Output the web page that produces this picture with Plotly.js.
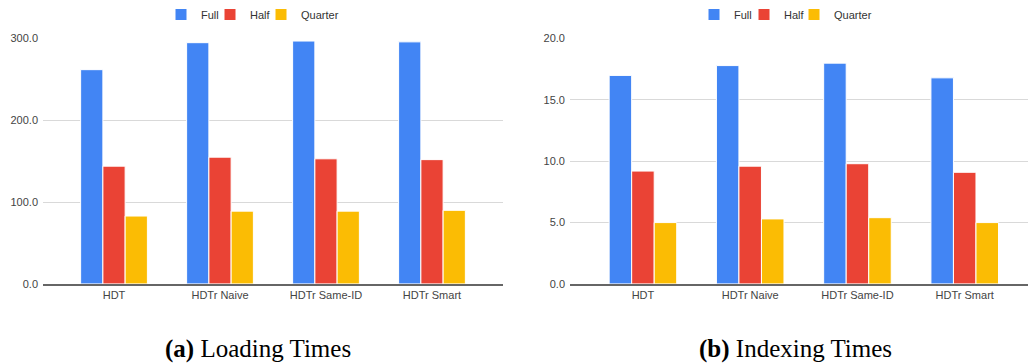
<!DOCTYPE html>
<html>
<head>
<meta charset="utf-8">
<script src="https://cdn.plot.ly/plotly-3.0.1.min.js"></script>
<style>html,body{margin:0;padding:0;background:#fff;}#chart{width:1029px;height:364px;}</style>
</head>
<body>
<div id="chart"></div>
<script>
const categories = ["HDT", "HDTr Naive", "HDTr Same-ID", "HDTr Smart"];
const seriesNames = ["Full", "Half", "Quarter"];
const seriesColors = ["#4285F4", "#EA4335", "#FBBC04"];
const loadingFull = [262, 295, 297, 296];
const loadingHalf = [144, 155, 153, 152];
const loadingQuarter = [83, 89, 89, 90];
const indexingFull = [17.0, 17.8, 18.0, 16.8];
const indexingHalf = [9.2, 9.6, 9.8, 9.1];
const indexingQuarter = [5.0, 5.3, 5.4, 5.0];
const yTicksLoading = [0, 100, 200, 300];
const yTicksIndexing = [0, 5, 10, 15, 20];
const captions = ["<b>(a)</b> Loading Times", "<b>(b)</b> Indexing Times"];

const loading = [loadingFull, loadingHalf, loadingQuarter];
const indexing = [indexingFull, indexingHalf, indexingQuarter];
// one small legend per entry so the entries can sit as close together as in the reference
const legendLeftPx = [161, 210, 261, 694, 744, 794];
const legendIds = ["legend", "legend2", "legend3", "legend4", "legend5", "legend6"];

const traces = [];
seriesNames.forEach((n, i) => {
  traces.push({type: "bar", name: n, x: categories, y: loading[i], xaxis: "x", yaxis: "y",
    marker: {color: seriesColors[i], line: {color: "#ffffff", width: 1}}, legend: legendIds[i], hoverinfo: "y"});
});
seriesNames.forEach((n, i) => {
  traces.push({type: "bar", name: n, x: categories, y: indexing[i], xaxis: "x2", yaxis: "y2",
    marker: {color: seriesColors[i], line: {color: "#ffffff", width: 1}}, legend: legendIds[3 + i], hoverinfo: "y"});
});

const tickFont = {family: "Liberation Sans, Arial, sans-serif", size: 11, color: "#444"};
const yDomain = [(364 - 283.7) / 364, (364 - 37.7) / 364];
const common = {
  showgrid: true, gridcolor: "#d9d9d9", gridwidth: 1, zeroline: false,
  tickfont: tickFont, tickformat: ".1f", ticks: "", fixedrange: true, ticklabelstandoff: 4
};
const legendBase = {orientation: "h", xanchor: "left", yanchor: "middle", y: (364 - 14) / 364,
  font: {family: "Liberation Sans, Arial, sans-serif", size: 11, color: "#333"}, bgcolor: "rgba(0,0,0,0)",
  itemclick: false, itemdoubleclick: false};

const layout = {
  width: 1029, height: 364,
  margin: {l: 0, r: 0, t: 0, b: 0},
  paper_bgcolor: "#fff", plot_bgcolor: "#fff",
  barmode: "group", bargap: 0.37, bargroupgap: 0,
  showlegend: true,
  xaxis: {domain: [43 / 1029, 503 / 1029], anchor: "y", tickfont: tickFont, showline: true,
    linecolor: "#666", linewidth: 2, ticks: "", fixedrange: true, range: [-0.67, 3.67]},
  yaxis: Object.assign({}, common, {domain: yDomain, anchor: "x", range: [0, 300], tickvals: yTicksLoading}),
  xaxis2: {domain: [570 / 1029, 1028 / 1029], anchor: "y2", tickfont: tickFont, showline: true,
    linecolor: "#666", linewidth: 2, ticks: "", fixedrange: true, range: [-0.68, 3.59]},
  yaxis2: Object.assign({}, common, {domain: yDomain, anchor: "x2", range: [0, 20], tickvals: yTicksIndexing}),
  annotations: [
    {text: captions[0], xref: "paper", yref: "paper", x: 257.5 / 1029, y: (364 - 349) / 364,
      xanchor: "center", yanchor: "middle", showarrow: false,
      font: {family: "Liberation Serif, Times New Roman, serif", size: 25, color: "#000"}},
    {text: captions[1], xref: "paper", yref: "paper", x: 795.5 / 1029, y: (364 - 349) / 364,
      xanchor: "center", yanchor: "middle", showarrow: false,
      font: {family: "Liberation Serif, Times New Roman, serif", size: 25, color: "#000"}}
  ]
};
legendIds.forEach((id, k) => {
  layout[id] = Object.assign({}, legendBase, {x: legendLeftPx[k] / 1029});
});
Plotly.newPlot("chart", traces, layout, {displayModeBar: false, staticPlot: true});
</script>
</body>
</html>
